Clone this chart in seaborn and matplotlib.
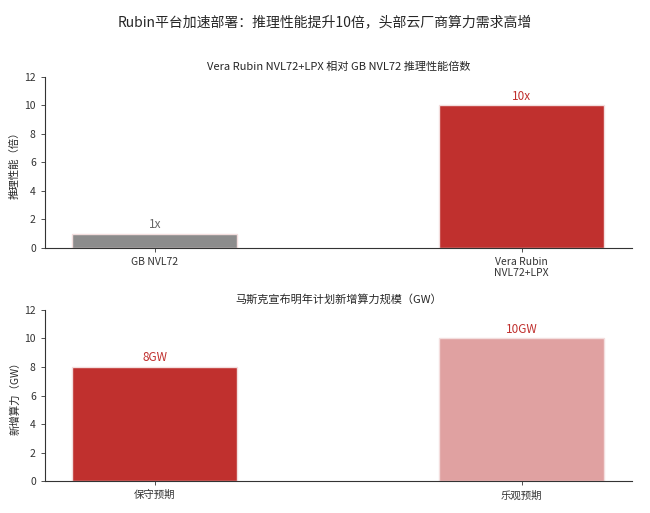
import seaborn as sns
import matplotlib.pyplot as plt
import pandas as pd

# 数据
perf_labels = ["GB NVL72", "Vera Rubin\nNVL72+LPX"]
perf_values = [1, 10]
perf_text = ["1x", "10x"]
perf_colors = ["#8c8c8c", "#c0302e"]

gw_labels = ["保守预期", "乐观预期"]
gw_values = [8, 10]
gw_text = ["8GW", "10GW"]
gw_colors = ["#c0302e", "#e0a1a1"]

sns.set_theme(style="white")
plt.rcParams['font.family'] = ['Noto Sans CJK SC', 'DejaVu Sans']

fig = plt.figure(figsize=(6.5, 5.13), dpi=100)
fig.suptitle("Rubin平台加速部署：推理性能提升10倍，头部云厂商算力需求高增",
             fontsize=10, y=0.97)

ax1 = fig.add_axes([0.069, 0.517, 0.903, 0.333])
ax2 = fig.add_axes([0.069, 0.062, 0.903, 0.334])


def draw(ax, labels, values, texts, colors, title, ylabel, label_colors):
    df = pd.DataFrame({"cat": labels, "val": values})
    sns.barplot(data=df, x="cat", y="val", hue="cat", palette=colors,
                legend=False, width=0.45, ax=ax, edgecolor="#f3dede",
                linewidth=1, saturation=1)
    for i, (v, t) in enumerate(zip(values, texts)):
        ax.text(i, v + 0.2, t, ha="center", va="bottom", fontsize=8.5,
                color=label_colors[i])
    ax.set_xlim(-0.3, 1.3)
    ax.set_ylim(0, 12)
    ax.set_yticks(range(0, 13, 2))
    ax.set_title(title, fontsize=8, pad=5)
    ax.set_xlabel("")
    ax.set_ylabel(ylabel, fontsize=7.5, labelpad=3)
    ax.tick_params(axis="both", labelsize=7.5, length=3, width=0.6,
                   left=True, bottom=True, colors="#333333")
    for s in ["top", "right"]:
        ax.spines[s].set_visible(False)
    for s in ["left", "bottom"]:
        ax.spines[s].set_color("#333333")
        ax.spines[s].set_linewidth(0.8)


draw(ax1, perf_labels, perf_values, perf_text, perf_colors,
     "Vera Rubin NVL72+LPX 相对 GB NVL72 推理性能倍数", "推理性能（倍）",
     ["#666666", "#c0302e"])
draw(ax2, gw_labels, gw_values, gw_text, gw_colors,
     "马斯克宣布明年计划新增算力规模（GW）", "新增算力（GW）",
     ["#c0302e", "#c0302e"])

fig.savefig("out.png", dpi=100)
